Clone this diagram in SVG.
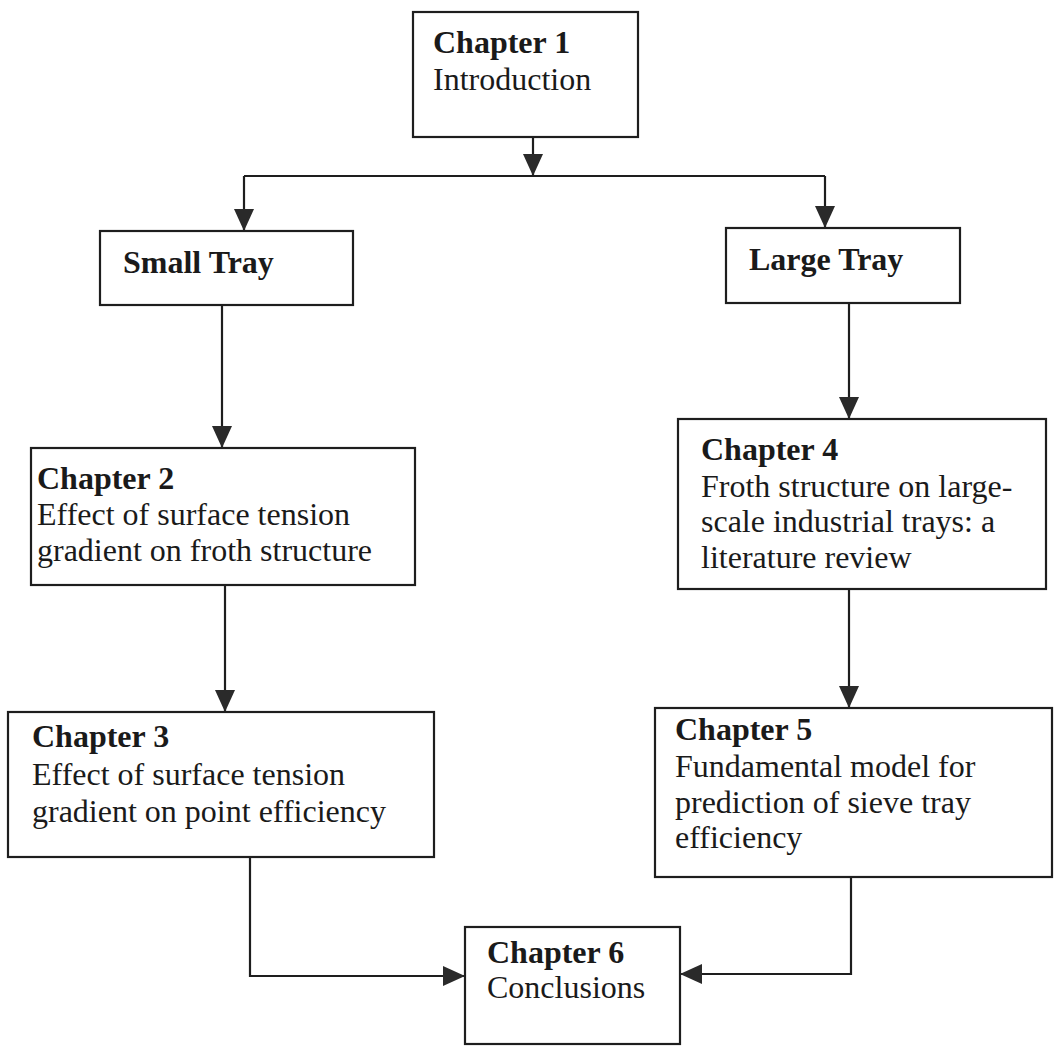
<svg xmlns="http://www.w3.org/2000/svg" width="1057" height="1046" viewBox="0 0 1057 1046">
<style>
.box{fill:#fff;stroke:#1e1e1e;stroke-width:2.2}
.t{font-family:"Liberation Serif","Times New Roman",serif;font-size:32px;fill:#1a1a1a}
.b{font-weight:bold}
.ln{fill:none;stroke:#1e1e1e;stroke-width:2.2}
</style>
<defs>
<marker id="ah" viewBox="0 0 22 20" refX="22" refY="10" markerWidth="22" markerHeight="20" markerUnits="userSpaceOnUse" orient="auto">
<path d="M0,0 L22,10 L0,20 Z" fill="#2a2a2a"/>
</marker>
</defs>
<rect width="1057" height="1046" fill="#fff"/>
<g id="ch1"><rect class="box" x="413" y="12" width="225" height="125"/>
<text class="t b" x="433" y="53">Chapter 1</text><text class="t" x="433" y="90">Introduction</text></g>
<g id="small"><rect class="box" x="100" y="231" width="253" height="74"/>
<text class="t b" x="123" y="273">Small Tray</text></g>
<g id="large"><rect class="box" x="726" y="228" width="234" height="75"/>
<text class="t b" x="749" y="270">Large Tray</text></g>
<g id="ch2"><rect class="box" x="31" y="448" width="384" height="137"/>
<text class="t b" x="37" y="489">Chapter 2</text><text class="t" x="37" y="525">Effect of surface tension</text><text class="t" x="37" y="561">gradient on froth structure</text></g>
<g id="ch4"><rect class="box" x="678" y="419" width="368" height="170"/>
<text class="t b" x="701" y="460">Chapter 4</text><text class="t" x="701" y="497">Froth structure on large-</text><text class="t" x="701" y="532">scale industrial trays: a</text><text class="t" x="701" y="568">literature review</text></g>
<g id="ch3"><rect class="box" x="8" y="712" width="426" height="145"/>
<text class="t b" x="32" y="747">Chapter 3</text><text class="t" x="32" y="785">Effect of surface tension</text><text class="t" x="32" y="822">gradient on point efficiency</text></g>
<g id="ch5"><rect class="box" x="655" y="708" width="397" height="169"/>
<text class="t b" x="675" y="740">Chapter 5</text><text class="t" x="675" y="777">Fundamental model for</text><text class="t" x="675" y="813">prediction of sieve tray</text><text class="t" x="675" y="848">efficiency</text></g>
<g id="ch6"><rect class="box" x="465" y="927" width="215" height="117"/>
<text class="t b" x="487" y="963">Chapter 6</text><text class="t" x="487" y="998">Conclusions</text></g>
<g id="connectors">
<path class="ln" d="M533,137 V176" marker-end="url(#ah)"/>
<path class="ln" d="M244,176 H825"/>
<path class="ln" d="M244,176 V231" marker-end="url(#ah)"/>
<path class="ln" d="M825,176 V228" marker-end="url(#ah)"/>
<path class="ln" d="M222,305 V448" marker-end="url(#ah)"/>
<path class="ln" d="M849,303 V419" marker-end="url(#ah)"/>
<path class="ln" d="M225,585 V712" marker-end="url(#ah)"/>
<path class="ln" d="M849,589 V708" marker-end="url(#ah)"/>
<path class="ln" d="M250,857 V976 H465" marker-end="url(#ah)"/>
<path class="ln" d="M851,877 V974 H680" marker-end="url(#ah)"/>
</g>
</svg>
